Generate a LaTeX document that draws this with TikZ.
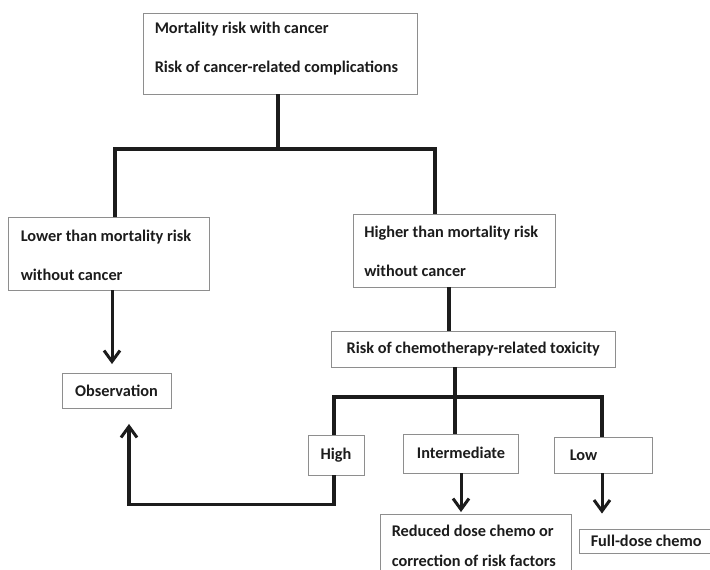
\documentclass[tikz,border=0pt]{standalone}
\usepackage{fontspec}
\setmainfont{Carlito}
\usetikzlibrary{arrows.meta}
\definecolor{boxgray}{HTML}{8E8E8E}
\definecolor{ink}{HTML}{1C1C1C}
\begin{document}
\begin{tikzpicture}[x={(1pt,0)}, y={(0,-1pt)},
  box/.style={draw=boxgray, line width=0.9pt, fill=white, inner sep=0pt},
  txt/.style={inner sep=0pt, text=ink, align=left, anchor=west,
    font=\fontsize{16.3}{39}\selectfont\bfseries},
  tree/.style={draw=ink, line width=3.4pt, line join=miter},
  arr/.style={draw=ink, line width=3pt, -{Straight Barb[length=11pt,width=16pt,line width=3pt]}}]
\clip (0,0) rectangle (710,570);
\useasboundingbox (0,0) rectangle (710,570);

% boxes
\node[box, minimum width=274pt, minimum height=81pt] (top) at (280,53.5) {};
\node[box, minimum width=201pt, minimum height=73pt] (lower) at (108.5,253.5) {};
\node[box, minimum width=202pt, minimum height=73pt] (higher) at (454,250.5) {};
\node[box, minimum width=283.5pt, minimum height=36pt] (chemo) at (473.25,349) {};
\node[box, minimum width=109pt, minimum height=35pt] (obs) at (116.5,391) {};
\node[box, minimum width=56pt, minimum height=40pt] (high) at (336,455) {};
\node[box, minimum width=115pt, minimum height=39pt] (inter) at (461,453.5) {};
\node[box, minimum width=98pt, minimum height=36pt] (low) at (603,455) {};
\node[box, minimum width=191.5pt, minimum height=70pt] (reduced) at (475.75,549) {};
\node[box, minimum width=136pt, minimum height=24pt] (full) at (647,541) {};

% labels
\node[txt, yshift=5pt] (topt) at ([xshift=12pt]top.west)
  {Mortality risk with cancer\\Risk of cancer-related complications};
\node[txt, yshift=-2pt] (lowert) at ([xshift=13pt]lower.west)
  {Lower than mortality risk\\without cancer};
\node[txt, yshift=-1pt] (highert) at ([xshift=11.5pt]higher.west)
  {Higher than mortality risk\\without cancer};
\node[txt, anchor=center] (chemot) at (chemo.center) {Risk of chemotherapy-related toxicity};
\node[txt, anchor=center] (obst) at (obs.center) {Observation};
\node[txt, anchor=center] (hight) at (high.center) {High};
\node[txt, anchor=center, yshift=1pt] (intert) at (inter.center) {Intermediate};
\node[txt] (lowt) at ([xshift=16pt]low.west) {Low};
\node[txt, yshift=3pt, font=\fontsize{16.3}{30}\selectfont\bfseries] (reducedt) at ([xshift=12pt]reduced.west)
  {Reduced dose chemo or\\correction of risk factors};
\node[txt] (fullt) at ([xshift=12pt]full.west) {Full-dose chemo};

% first split
\coordinate (j1) at (278,149);
\draw[tree] (top.south -| j1) -- (j1);
\draw[tree] ([xshift=6.5pt]lower.north) |- (j1) -| ([xshift=-19pt]higher.north);
\draw[arr, shorten >=9pt] ([xshift=3.5pt]lower.south) -- ([xshift=3.5pt]lower.south |- obs.north);
\draw[tree] ([xshift=-5pt]higher.south) -- ([xshift=-5pt]higher.south |- chemo.north);

% second split
\coordinate (j2) at (455,397);
\draw[tree] (chemo.south -| j2) -- (j2);
\draw[tree] ([xshift=-2pt]high.north) |- (j2) -| ([xshift=-1pt]low.north);
\draw[tree] (j2) -- (inter.north -| j2);

% outcomes
\draw[arr, line width=3.3pt, line join=miter, shorten >=15pt]
  ([xshift=-2pt]high.south) -- ++(0,29) -| ([xshift=12.5pt]obs.south);
\draw[arr, shorten >=1.5pt] (inter.south) -- (inter.south |- reduced.north);
\draw[arr, shorten >=15pt] ([xshift=-1pt]low.south) -- ([xshift=-1pt]low.south |- full.north);
\end{tikzpicture}
\end{document}
